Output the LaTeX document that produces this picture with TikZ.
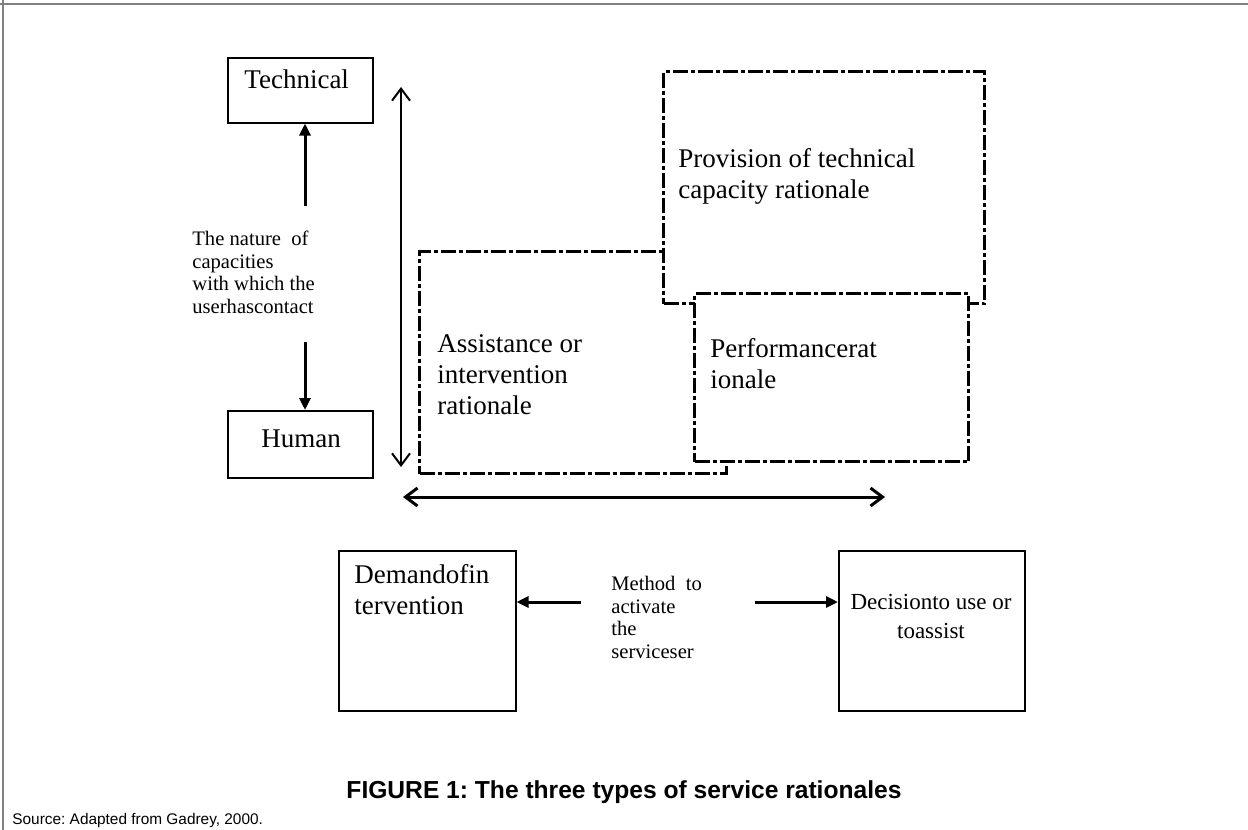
\documentclass[tikz,border=0pt]{standalone}
\usepackage{fontspec}
\setmainfont{Liberation Serif}
\setsansfont{Liberation Sans}
\usetikzlibrary{arrows.meta}
\frenchspacing
\begin{document}
\begin{tikzpicture}[x=0.5pt,y=-0.5pt,
  solidbox/.style={draw, line width=0.75pt, inner sep=0pt, anchor=north west},
  dashbox/.style={draw, fill=white, line width=1.7pt, inner sep=0pt, anchor=north west,
    dash pattern=on 7.5pt off 1.5pt on 2pt off 1.5pt},
  bigtxt/.style={font=\fontsize{13.5}{15.5}\selectfont, inner sep=0pt, anchor=base west, align=left},
  smalltxt/.style={font=\fontsize{10.3}{11.25}\selectfont, inner sep=0pt, anchor=base west, align=left},
  fatarrow/.style={line width=1.5pt, -{Triangle[length=6pt,width=5.5pt]}},
  barbarrow/.style={{Straight Barb[length=6pt,width=9pt]}-{Straight Barb[length=6pt,width=9pt]}},
]
\path[use as bounding box] (0,0) rectangle (1248,830);
% frame
\draw[gray, line width=1pt] (0,3.5) -- (1248,3.5);
\draw[gray, line width=1pt] (3,0) -- (3,830);

% solid boxes
\node[solidbox, minimum width=72.5pt, minimum height=32.5pt] (tech) at (227,57) {};
\node[solidbox, minimum width=72.5pt, minimum height=33.5pt] (human) at (227,410) {};
\node[solidbox, minimum width=88.5pt, minimum height=80pt] (demand) at (338,550) {};
\node[solidbox, minimum width=93pt, minimum height=80pt] (decision) at (838,550) {};

% dash-dot boxes
\node[dashbox, minimum width=153.5pt, minimum height=111pt] (assist) at (418,250) {};
\node[dashbox, minimum width=160.5pt, minimum height=116pt] (prov) at (662,70) {};
\node[dashbox, minimum width=137pt, minimum height=84pt] (perf) at (693,292) {};

% texts (base anchor = baseline of the last line)
\node[bigtxt] (ttech) at (244,88) {Technical};
\node[bigtxt] (thuman) at (261,447) {Human};
\node[smalltxt] (tnature) at (192,313) {The nature\ \ of\\capacities\\with which the\\userhascontact};
\node[bigtxt] (tprov) at (678,198) {Provision of technical\\capacity rationale};
\node[bigtxt] (tassist) at (437,414) {Assistance or\\intervention\\rationale};
\node[bigtxt] (tperf) at (710,388) {Performancerat\\ionale};
\node[bigtxt] (tdemand) at (354,614) {Demandofin\\tervention};
\node[bigtxt, align=center, anchor=base, font=\fontsize{11.5}{14.5}\selectfont] (tdecision) at (931,638) {Decisionto use or\\toassist};
\node[smalltxt] (tmethod) at (611,658) {Method\ \ to\\activate\\the\\serviceser};

% arrows
\coordinate (upstart) at (305,206);
\coordinate (downstart) at (305,342);
\draw[fatarrow] (upstart) -- (upstart |- tech.south);
\draw[fatarrow] (downstart) -- (downstart |- human.north);
\coordinate (lstart) at (581,602);
\coordinate (rstart) at (755,602);
\draw[fatarrow] (lstart) -- (lstart -| demand.east);
\draw[fatarrow] (rstart) -- (rstart -| decision.west);

\coordinate (vtop) at (401,87);
\coordinate (vbot) at (401,467);
\draw[barbarrow, line width=1pt] (vtop) -- (vbot);
\coordinate (hleft) at (403,497);
\coordinate (hright) at (885,497);
\draw[barbarrow, line width=1.5pt] (hleft) -- (hright);

% caption
\node[font=\sffamily\bfseries\fontsize{12.3}{14}\selectfont, anchor=base, inner sep=0pt] (caption) at (624,798) {FIGURE 1: The three types of service rationales};
\node[font=\sffamily\fontsize{7.7}{9}\selectfont, anchor=base west, inner sep=0pt] (source) at (12,824) {Source: Adapted from Gadrey, 2000.};
\end{tikzpicture}
\end{document}
